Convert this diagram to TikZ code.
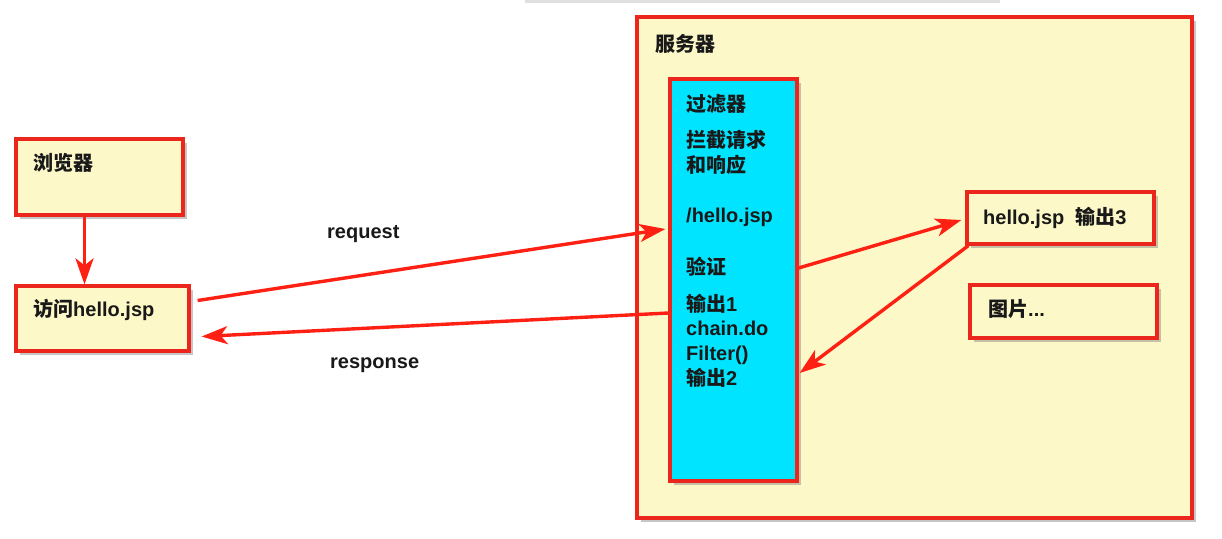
\documentclass[tikz,border=0pt]{standalone}
\usepackage{fontspec}
\setmainfont{Liberation Sans}
\newfontfamily\cjk{Noto Sans CJK SC}
\usetikzlibrary{arrows.meta,shadows}
\definecolor{boxyellow}{RGB}{252,248,200}
\definecolor{boxred}{RGB}{235,38,28}
\definecolor{arrred}{RGB}{255,32,20}
\definecolor{filtercyan}{RGB}{0,228,255}
\tikzset{
  ybox/.style={draw=boxred, line width=3.2pt, fill=boxyellow, inner sep=0pt,
    drop shadow={shadow xshift=4pt, shadow yshift=-4pt, opacity=0.45}},
  cbox/.style={draw=boxred, line width=3.2pt, fill=filtercyan, inner sep=0pt,
    drop shadow={shadow xshift=4pt, shadow yshift=-4pt, opacity=0.45}},
  txt/.style={anchor=base west, inner sep=0pt, font=\fontsize{20}{24.7}\selectfont\bfseries, text=black!90},
  arr/.style={draw=arrred, line width=3.4pt, -{Stealth[length=26pt,width=18pt,inset=7pt]}},
}
\begin{document}
\begin{tikzpicture}[x=1pt,y=-1pt]
\useasboundingbox (0,0) rectangle (1222,538);
\fill[black!12] (525,0) rectangle (1000,2.5);
% boxes
\node[ybox, minimum width=167pt, minimum height=76pt] (browser) at (99.5,177) {};
\node[ybox, minimum width=173pt, minimum height=65pt] (access) at (102.5,318.5) {};
\node[ybox, minimum width=555pt, minimum height=501pt] (server) at (914.5,267.5) {};
\node[cbox, minimum width=127pt, minimum height=402pt] (filter) at (733.5,280) {};
\node[ybox, minimum width=187pt, minimum height=52pt] (hello) at (1060.5,218) {};
\node[ybox, minimum width=187pt, minimum height=53pt] (pic) at (1063.5,311.5) {};
% texts
\node[txt] (tb) at (33,170) {\cjk\bfseries 浏览器};
\node[txt] (ta) at (33,316) {{\cjk\bfseries 访问}hello.jsp};
\node[txt] (ts) at (655,51) {\cjk\bfseries 服务器};
\node[txt] (tf1) at (686,111) {\cjk\bfseries 过滤器};
\node[txt] (tf2) at (686,147) {\cjk\bfseries 拦截请求};
\node[txt] (tf3) at (686,172) {\cjk\bfseries 和响应};
\node[txt] (tf4) at (686,222) {/hello.jsp};
\node[txt] (tf5) at (686,274) {\cjk\bfseries 验证};
\node[txt] (tf6) at (686,311) {{\cjk\bfseries 输出}1};
\node[txt] (tf7) at (686,335.5) {chain.do};
\node[txt] (tf8) at (686,360) {Filter()};
\node[txt] (tf9) at (686,385) {{\cjk\bfseries 输出}2};
\node[txt] (th) at (983,224) {hello.jsp\ \ {\cjk\bfseries 输出}3};
\node[txt] (tp) at (988,316) {{\cjk\bfseries 图片}...};
\node[txt] (treq) at (327,238) {request};
\node[txt] (tresp) at (330,368) {response};
% connectors
\draw[arr] ([xshift=-15pt]browser.south) -- ([xshift=-15pt]browser.south |- access.north);
\draw[arr] ([xshift=7pt,yshift=18pt]access.east) -- ([xshift=-3pt,yshift=51pt]filter.west);
\draw[arr] ([yshift=-33pt]filter.west) -- ([xshift=11pt,yshift=-18pt]access.east);
\draw[arr] ([yshift=12pt]filter.east) -- ([xshift=-4pt,yshift=-2pt]hello.west);
\draw[arr] ([xshift=3pt]hello.south west) -- ([xshift=1pt,yshift=-93pt]filter.east);
\end{tikzpicture}
\end{document}
